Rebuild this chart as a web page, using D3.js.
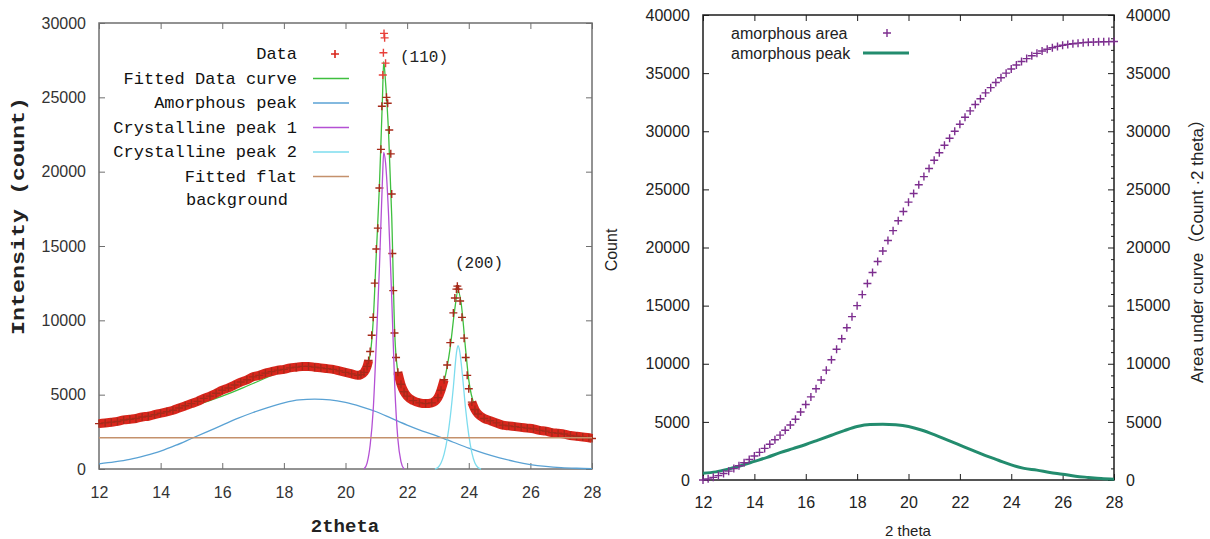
<!DOCTYPE html>
<html>
<head>
<meta charset="utf-8">
<script src="https://cdn.jsdelivr.net/npm/d3@7"></script>
<style>
  body { margin: 0; background: #fff; }
  svg { display: block; }
</style>
</head>
<body>
<svg id="chart" width="1210" height="539"></svg>
<script>
/* global d3 */

// ---- values ----

const thetaTicks = [12, 14, 16, 18, 20, 22, 24, 26, 28]
const countTicksL = [0, 5000, 10000, 15000, 20000, 25000, 30000]
const countTicksR = [0, 5000, 10000, 15000, 20000, 25000, 30000, 35000, 40000]

// left panel: measured XRD pattern (2theta, count)
const xrdData = [
  [12.0, 3050], [12.2, 3100], [12.4, 3150], [12.6, 3200], [12.8, 3300], [13.0, 3350],
  [13.2, 3400], [13.4, 3500], [13.6, 3550], [13.8, 3650], [14.0, 3750], [14.2, 3850],
  [14.4, 3950], [14.6, 4100], [14.8, 4250], [15.0, 4400], [15.2, 4550], [15.4, 4750],
  [15.6, 4900], [15.8, 5100], [16.0, 5300], [16.2, 5450], [16.4, 5650], [16.6, 5850],
  [16.8, 6000], [17.0, 6200], [17.2, 6300], [17.4, 6450], [17.6, 6550], [17.8, 6650],
  [18.0, 6700], [18.2, 6800], [18.4, 6850], [18.6, 6900], [18.8, 6900], [19.0, 6850],
  [19.2, 6800], [19.4, 6750], [19.6, 6700], [19.8, 6600], [20.0, 6500], [20.2, 6400],
  [20.4, 6300], [20.5, 6350], [20.6, 6500], [20.7, 6900], [20.75, 7300], [20.8, 7900],
  [20.85, 9000], [20.9, 10200], [20.95, 12500], [21.0, 14800], [21.05, 16200], [21.1, 18900],
  [21.15, 21500], [21.18, 24400], [21.21, 26500], [21.23, 28000], [21.25, 29300], [21.27, 29000],
  [21.3, 27300], [21.33, 25000], [21.37, 24600], [21.42, 22800], [21.47, 21200], [21.5, 18500],
  [21.52, 14500], [21.55, 12000], [21.59, 9150], [21.64, 7500], [21.7, 6500], [21.8, 5700],
  [21.9, 5200], [22.0, 4900], [22.2, 4600], [22.4, 4450], [22.6, 4400], [22.8, 4450],
  [23.0, 4800], [23.1, 5300], [23.2, 6000], [23.3, 7000], [23.4, 8500], [23.5, 10500],
  [23.55, 11500], [23.6, 12100], [23.63, 12300], [23.67, 12100], [23.72, 11300], [23.78, 10200],
  [23.85, 8800], [23.9, 7500], [23.95, 6300], [24.0, 5400], [24.1, 4500], [24.2, 4000],
  [24.3, 3700], [24.5, 3400], [24.7, 3250], [24.9, 3100], [25.1, 2950], [25.3, 2900],
  [25.5, 2850], [25.7, 2800], [25.9, 2750], [26.1, 2700], [26.3, 2600], [26.5, 2550],
  [26.7, 2450], [26.9, 2400], [27.1, 2350], [27.3, 2250], [27.5, 2200], [27.7, 2150],
  [27.9, 2100], [28.0, 2050]
]

const fitCurve = [
  [12.0, 2950], [13.0, 3300], [14.0, 3650], [15.0, 4200], [16.0, 4900], [17.0, 5750],
  [18.0, 6600], [18.8, 6900], [19.5, 6700], [20.0, 6450], [20.4, 6300], [20.6, 6500],
  [20.8, 7700], [20.9, 10000], [21.0, 14500], [21.1, 19000], [21.2, 25000], [21.24, 27400],
  [21.3, 26000], [21.4, 22500], [21.5, 17000], [21.6, 9000], [21.7, 6500], [21.8, 5600],
  [22.0, 4900], [22.4, 4400], [22.7, 4350], [23.0, 4800], [23.2, 5900], [23.4, 8200],
  [23.55, 10800], [23.65, 12000], [23.75, 11200], [23.9, 8000], [24.0, 6000], [24.2, 4200],
  [24.5, 3400], [25.0, 3050], [26.0, 2600], [27.0, 2250], [28.0, 1950]
]

const amorphLeft = [
  [12.0, 350], [12.5, 480], [13.0, 650], [13.5, 900], [14.0, 1200], [14.5, 1600],
  [15.0, 2050], [15.5, 2500], [16.0, 2950], [16.5, 3400], [17.0, 3800], [17.5, 4150],
  [18.0, 4450], [18.5, 4650], [19.0, 4700], [19.5, 4650], [20.0, 4480], [20.5, 4200],
  [21.0, 3850], [21.5, 3400], [22.0, 2950], [22.5, 2550], [23.0, 2200], [23.5, 1800],
  [24.0, 1400], [24.5, 1050], [25.0, 750], [25.5, 500], [26.0, 300], [26.5, 170],
  [27.0, 90], [27.5, 50], [28.0, 30]
]

const cryst1 = [
  [20.6, 0], [20.7, 400], [20.8, 1600], [20.9, 4000], [21.0, 8500], [21.1, 13500],
  [21.2, 19500], [21.24, 21300], [21.3, 20600], [21.4, 17000], [21.5, 11500], [21.6, 5500],
  [21.7, 2000], [21.8, 500], [21.9, 0]
]

const cryst2 = [
  [22.9, 0], [23.0, 100], [23.1, 400], [23.2, 1000], [23.3, 2000], [23.4, 3500],
  [23.5, 5500], [23.6, 7800], [23.65, 8300], [23.7, 8000], [23.8, 6200], [23.9, 4000],
  [24.0, 2300], [24.1, 1100], [24.2, 400], [24.3, 100], [24.4, 0]
]

const flatBg = [[12, 2100], [28, 2100]]

const legendL = ['Data', 'Fitted Data curve', 'Amorphous peak',
  'Crystalline peak 1', 'Crystalline peak 2', 'Fitted flat']

// right panel: cumulative area under the amorphous peak, and the peak itself
const areaCum = [
  [12.0, 0], [12.2, 100], [12.4, 230], [12.6, 380], [12.8, 560], [13.0, 760],
  [13.2, 980], [13.4, 1220], [13.6, 1480], [13.8, 1760], [14.0, 2060], [14.2, 2380],
  [14.4, 2720], [14.6, 3080], [14.8, 3460], [15.0, 3860], [15.2, 4280], [15.4, 4730],
  [15.6, 5230], [15.8, 5850], [16.0, 6500], [16.2, 7150], [16.4, 7850], [16.6, 8600],
  [16.8, 9450], [17.0, 10350], [17.2, 11250], [17.4, 12150], [17.6, 13100], [17.8, 14050],
  [18.0, 15000], [18.2, 15950], [18.4, 16900], [18.6, 17850], [18.8, 18800], [19.0, 19700],
  [19.2, 20600], [19.4, 21450], [19.6, 22300], [19.8, 23100], [20.0, 23900], [20.2, 24650],
  [20.4, 25400], [20.6, 26100], [20.8, 26800], [21.0, 27500], [21.2, 28150], [21.4, 28800],
  [21.6, 29400], [21.8, 30000], [22.0, 30600], [22.2, 31200], [22.4, 31750], [22.6, 32300],
  [22.8, 32800], [23.0, 33300], [23.2, 33750], [23.4, 34200], [23.6, 34600], [23.8, 35000],
  [24.0, 35350], [24.2, 35700], [24.4, 36000], [24.6, 36250], [24.8, 36500], [25.0, 36700],
  [25.2, 36900], [25.4, 37050], [25.6, 37180], [25.8, 37300], [26.0, 37400], [26.2, 37470],
  [26.4, 37530], [26.6, 37580], [26.8, 37620], [27.0, 37650], [27.2, 37670], [27.4, 37690],
  [27.6, 37700], [27.8, 37710], [28.0, 37720]
]

const amorphRight = [
  [12.0, 580], [12.5, 700], [13.0, 950], [13.5, 1250], [14.0, 1600], [14.5, 1950],
  [15.0, 2350], [15.5, 2700], [16.0, 3050], [16.5, 3450], [17.0, 3850], [17.5, 4250],
  [18.0, 4600], [18.5, 4780], [19.0, 4800], [19.5, 4750], [20.0, 4600], [20.5, 4300],
  [21.0, 3900], [21.5, 3450], [22.0, 3000], [22.5, 2550], [23.0, 2100], [23.5, 1700],
  [24.0, 1300], [24.5, 1000], [25.0, 850], [25.5, 650], [26.0, 500], [26.5, 330],
  [27.0, 220], [27.5, 120], [28.0, 60]
]

// ---- drawing ----

const MONO = '"Courier New", "Liberation Mono", monospace'
const SANS = 'Arial, "Liberation Sans", sans-serif'
const plusPath = s => `M${-s},0H${s}M0,${-s}V${s}`
const fmt = d3.format('d')

const colL = {
  data: '#d9261c', mark: '#a62a1a', fit: '#3fbf3f', amorph: '#5aa2d4',
  c1: '#b450d4', c2: '#7ddcee', bg: '#c4916c'
}

const svg = d3.select('#chart')

const xL = d3.scaleLinear().domain([12, 28]).range([99, 592])
const yL = d3.scaleLinear().domain([0, 30000]).range([469, 23])
const xR = d3.scaleLinear().domain([12, 28]).range([703, 1114])
const yR = d3.scaleLinear().domain([0, 40000]).range([480, 15])

function styleAxis (g, lineColor, textColor) {
  g.attr('font-size', 16).attr('font-family', SANS).attr('color', lineColor)
  g.select('.domain').remove()
  g.selectAll('text').attr('fill', textColor)
}

function drawFrame (x, y, o) {
  const g = svg.append('g')
  const bottom = y.range()[0]
  const top = y.range()[1]

  g.append('g').attr('transform', `translate(0,${bottom})`)
    .call(d3.axisBottom(x).tickValues(thetaTicks).tickSize(-6).tickSizeOuter(0)
      .tickPadding(o.xPad).tickFormat(fmt))
    .call(s => styleAxis(s, o.line, o.text))
  g.append('g').attr('transform', `translate(0,${top})`)
    .call(d3.axisTop(x).tickValues(thetaTicks).tickSize(-6).tickSizeOuter(0).tickFormat(''))
    .call(s => styleAxis(s, o.line, o.text))
  g.append('g').attr('transform', `translate(${x.range()[0]},0)`)
    .call(d3.axisLeft(y).tickValues(o.yTicks).tickSize(-6).tickSizeOuter(0)
      .tickPadding(o.yPad).tickFormat(fmt))
    .call(s => styleAxis(s, o.line, o.text))
  g.append('g').attr('transform', `translate(${x.range()[1]},0)`)
    .call(d3.axisRight(y).tickValues(o.yTicks).tickSize(-6).tickSizeOuter(0)
      .tickPadding(o.rPad || 0).tickFormat(o.rightLabels ? fmt : ''))
    .call(s => styleAxis(s, o.line, o.text))

  if (o.minor) {
    g.append('g').attr('transform', `translate(${x.range()[1]},0)`)
      .call(d3.axisRight(y).tickValues(o.minor).tickSize(-3).tickSizeOuter(0).tickFormat(''))
      .call(s => styleAxis(s, o.line, o.text))
  }

  g.append('rect')
    .attr('x', x.range()[0]).attr('y', top)
    .attr('width', x.range()[1] - x.range()[0]).attr('height', bottom - top)
    .attr('fill', 'none').attr('stroke', o.line).attr('stroke-width', 1.5)
  return g
}

function curve (x, y, pts, color, width) {
  svg.append('path')
    .datum(pts)
    .attr('fill', 'none')
    .attr('stroke', color)
    .attr('stroke-width', width)
    .attr('stroke-linejoin', 'round')
    .attr('d', d3.line().x(d => x(d[0])).y(d => y(d[1])).curve(d3.curveMonotoneX))
}

// ----- left panel -----
drawFrame(xL, yL, { line: '#6f6f6f', text: '#333', yTicks: countTicksL, xPad: 18, yPad: 13 })

curve(xL, yL, fitCurve, colL.fit, 1.3)

// dense red band of the noisy data outside the steep peak flanks
const flat = d => !(d[0] > 20.78 && d[0] < 21.68) && !(d[0] > 23.25 && d[0] < 24.02)
svg.append('path')
  .datum(xrdData)
  .attr('fill', 'none')
  .attr('stroke', colL.data)
  .attr('stroke-width', 9)
  .attr('stroke-linejoin', 'round')
  .attr('stroke-linecap', 'butt')
  .attr('d', d3.line().defined(flat).x(d => xL(d[0])).y(d => yL(d[1])).curve(d3.curveMonotoneX))

svg.append('g')
  .selectAll('path')
  .data(xrdData)
  .enter()
  .append('path')
  .attr('transform', d => `translate(${xL(d[0])},${yL(d[1])})`)
  .attr('d', plusPath(4))
  .attr('stroke', d => d[1] > 26000 ? '#e8403a' : colL.mark)
  .attr('stroke-width', 1.4)

curve(xL, yL, amorphLeft, colL.amorph, 1.3)
curve(xL, yL, cryst1, colL.c1, 1.3)
curve(xL, yL, cryst2, colL.c2, 1.3)
curve(xL, yL, flatBg, colL.bg, 1.5)

// legend
const legColors = [colL.data, colL.fit, colL.amorph, colL.c1, colL.c2, colL.bg]
const leg = svg.append('g').attr('font-family', MONO).attr('font-size', 17).attr('fill', '#111')
legendL.forEach((label, i) => {
  const cy = 54 + i * 24.5
  leg.append('text').attr('x', 297).attr('y', cy + 5).attr('text-anchor', 'end').text(label)
  if (i === 0) {
    leg.append('path').attr('transform', `translate(335,${cy})`)
      .attr('d', plusPath(4)).attr('stroke', legColors[i]).attr('stroke-width', 1.6)
  } else {
    leg.append('line').attr('x1', 313).attr('x2', 349).attr('y1', cy).attr('y2', cy)
      .attr('stroke', legColors[i]).attr('stroke-width', 1.5)
  }
})
leg.append('text').attr('x', 288).attr('y', 205).attr('text-anchor', 'end').text('background')

svg.append('text').attr('x', 400).attr('y', 62)
  .attr('font-family', MONO).attr('font-size', 16).attr('fill', '#222').text('(110)')
svg.append('text').attr('x', 455).attr('y', 268)
  .attr('font-family', MONO).attr('font-size', 16).attr('fill', '#222').text('(200)')

svg.append('text')
  .attr('x', 345).attr('y', 532).attr('text-anchor', 'middle')
  .attr('font-family', MONO).attr('font-weight', 'bold').attr('font-size', 19)
  .attr('fill', '#222').text('2theta')
svg.append('text')
  .attr('transform', 'translate(24,216) rotate(-90)')
  .attr('text-anchor', 'middle')
  .attr('font-family', MONO).attr('font-weight', 'bold').attr('font-size', 19)
  .attr('textLength', 238).attr('lengthAdjust', 'spacingAndGlyphs')
  .attr('fill', '#222').text('Intensity (count)')

// ----- right panel -----
const minorR = d3.range(0, 40001, 1000).filter(v => v % 5000 !== 0)
drawFrame(xR, yR, {
  line: '#1c1c1c', text: '#222', yTicks: countTicksR, xPad: 17, yPad: 13,
  rightLabels: true, rPad: 12, minor: minorR
})

curve(xR, yR, amorphRight, '#238c6e', 3)

svg.append('g')
  .selectAll('path')
  .data(areaCum)
  .enter()
  .append('path')
  .attr('transform', d => `translate(${xR(d[0])},${yR(d[1])})`)
  .attr('d', plusPath(4))
  .attr('stroke', '#7d2e8f')
  .attr('stroke-width', 1.4)

const legR = svg.append('g').attr('font-family', SANS).attr('font-size', 16).attr('fill', '#222')
legR.append('text').attr('x', 731).attr('y', 39).text('amorphous area')
legR.append('text').attr('x', 731).attr('y', 59).text('amorphous peak')
legR.append('path').attr('transform', 'translate(887,33)')
  .attr('d', plusPath(4)).attr('stroke', '#7d2e8f').attr('stroke-width', 1.4)
legR.append('line').attr('x1', 863).attr('x2', 909).attr('y1', 53).attr('y2', 53)
  .attr('stroke', '#238c6e').attr('stroke-width', 3)

svg.append('text')
  .attr('x', 908).attr('y', 536).attr('text-anchor', 'middle')
  .attr('font-family', SANS).attr('font-size', 15).attr('fill', '#222').text('2 theta')
svg.append('text')
  .attr('transform', 'translate(617,250) rotate(-90)')
  .attr('text-anchor', 'middle')
  .attr('font-family', SANS).attr('font-size', 16).attr('fill', '#222').text('Count')
svg.append('text')
  .attr('transform', 'translate(1203,247) rotate(-90)')
  .attr('text-anchor', 'middle')
  .attr('font-family', SANS + ', "Noto Sans CJK SC"').attr('font-size', 17)
  .attr('fill', '#222').text('Area under curve（Count ·2 theta）')
</script>
</body>
</html>
